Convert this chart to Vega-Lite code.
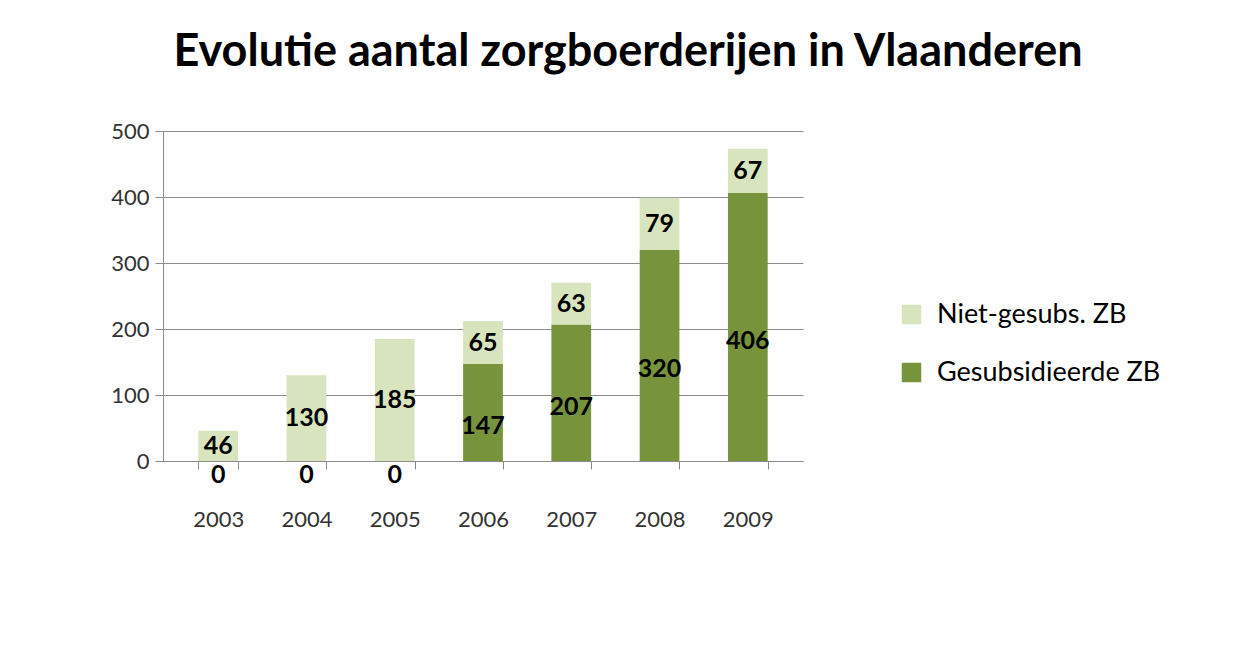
{
  "$schema": "https://vega.github.io/schema/vega-lite/v6.json",
  "width": 640,
  "height": 330,
  "padding": {"left": 110, "top": 30, "right": 20, "bottom": 20},
  "background": "white",
  "config": {
    "font": "Lato",
    "view": {"stroke": null},
    "axis": {"labelFont": "Lato", "labelColor": "#333333", "labelFontSize": 22, "domainColor": "#8c8c8c", "tickColor": "#8c8c8c", "gridColor": "#8c8c8c"}
  },
  "title": {
    "text": "Evolutie aantal zorgboerderijen in Vlaanderen",
    "fontSize": 45,
    "font": "Lato",
    "fontWeight": "bold",
    "color": "#000000",
    "anchor": "middle",
    "dx": 145,
    "offset": 45
  },
  "data": {
    "values": [
      {"jaar": "2003", "reeks": "Gesubsidieerde ZB", "aantal": 0, "volgorde": 0},
      {"jaar": "2004", "reeks": "Gesubsidieerde ZB", "aantal": 0, "volgorde": 0},
      {"jaar": "2005", "reeks": "Gesubsidieerde ZB", "aantal": 0, "volgorde": 0},
      {"jaar": "2006", "reeks": "Gesubsidieerde ZB", "aantal": 147, "volgorde": 0},
      {"jaar": "2007", "reeks": "Gesubsidieerde ZB", "aantal": 207, "volgorde": 0},
      {"jaar": "2008", "reeks": "Gesubsidieerde ZB", "aantal": 320, "volgorde": 0},
      {"jaar": "2009", "reeks": "Gesubsidieerde ZB", "aantal": 406, "volgorde": 0},
      {"jaar": "2003", "reeks": "Niet-gesubs. ZB", "aantal": 46, "volgorde": 1},
      {"jaar": "2004", "reeks": "Niet-gesubs. ZB", "aantal": 130, "volgorde": 1},
      {"jaar": "2005", "reeks": "Niet-gesubs. ZB", "aantal": 185, "volgorde": 1},
      {"jaar": "2006", "reeks": "Niet-gesubs. ZB", "aantal": 65, "volgorde": 1},
      {"jaar": "2007", "reeks": "Niet-gesubs. ZB", "aantal": 63, "volgorde": 1},
      {"jaar": "2008", "reeks": "Niet-gesubs. ZB", "aantal": 79, "volgorde": 1},
      {"jaar": "2009", "reeks": "Niet-gesubs. ZB", "aantal": 67, "volgorde": 1}
    ]
  },
  "transform": [
    {"stack": "aantal", "groupby": ["jaar"], "sort": [{"field": "volgorde", "order": "ascending"}], "as": ["y0", "y1"]},
    {"calculate": "(datum.y0 + datum.y1) / 2", "as": "ymid"}
  ],
  "encoding": {
    "x": {
      "field": "jaar",
      "type": "ordinal",
      "title": null,
      "scale": {"paddingInner": 0.55, "paddingOuter": 0.4},
      "axis": {"labelAngle": 0, "labelPadding": 40, "ticks": true, "tickBand": "extent", "tickSize": 8, "domain": true}
    }
  },
  "layer": [
    {
      "mark": {"type": "bar", "cornerRadius": 0},
      "encoding": {
        "y": {
          "field": "y0",
          "type": "quantitative",
          "title": null,
          "scale": {"domain": [0, 500], "nice": false},
          "axis": {"values": [0, 100, 200, 300, 400, 500], "grid": true, "domain": true, "tickSize": 8, "labelPadding": 6}
        },
        "y2": {"field": "y1"},
        "color": {
          "field": "reeks",
          "type": "nominal",
          "title": null,
          "scale": {"domain": ["Niet-gesubs. ZB", "Gesubsidieerde ZB"], "range": ["#d7e4bd", "#77933c"]},
          "legend": {
            "orient": "none",
            "legendX": 735,
            "legendY": 170,
            "symbolType": "square",
            "symbolSize": 380,
            "symbolStrokeWidth": 0,
            "labelFontSize": 27,
            "labelFont": "Lato",
            "labelColor": "#000000",
            "labelLimit": 400,
            "rowPadding": 30,
            "labelOffset": 12
          }
        }
      }
    },
    {
      "transform": [{"filter": "datum.volgorde == 1"}],
      "mark": {"type": "text", "fontSize": 25, "fontWeight": "bold", "color": "#000000", "font": "Lato", "baseline": "middle"},
      "encoding": {
        "y": {"field": "ymid", "type": "quantitative", "title": null,
          "axis": {"values": [0, 100, 200, 300, 400, 500], "grid": true, "domain": true, "tickSize": 8, "labelPadding": 6}},
        "text": {"field": "aantal", "type": "quantitative"}
      }
    },
    {
      "transform": [{"filter": "datum.volgorde == 0"}],
      "mark": {"type": "text", "fontSize": 25, "fontWeight": "bold", "color": "#000000", "font": "Lato", "baseline": "middle", "dy": 14},
      "encoding": {
        "y": {"field": "ymid", "type": "quantitative", "title": null,
          "axis": {"values": [0, 100, 200, 300, 400, 500], "grid": true, "domain": true, "tickSize": 8, "labelPadding": 6}},
        "text": {"field": "aantal", "type": "quantitative"}
      }
    }
  ]
}
